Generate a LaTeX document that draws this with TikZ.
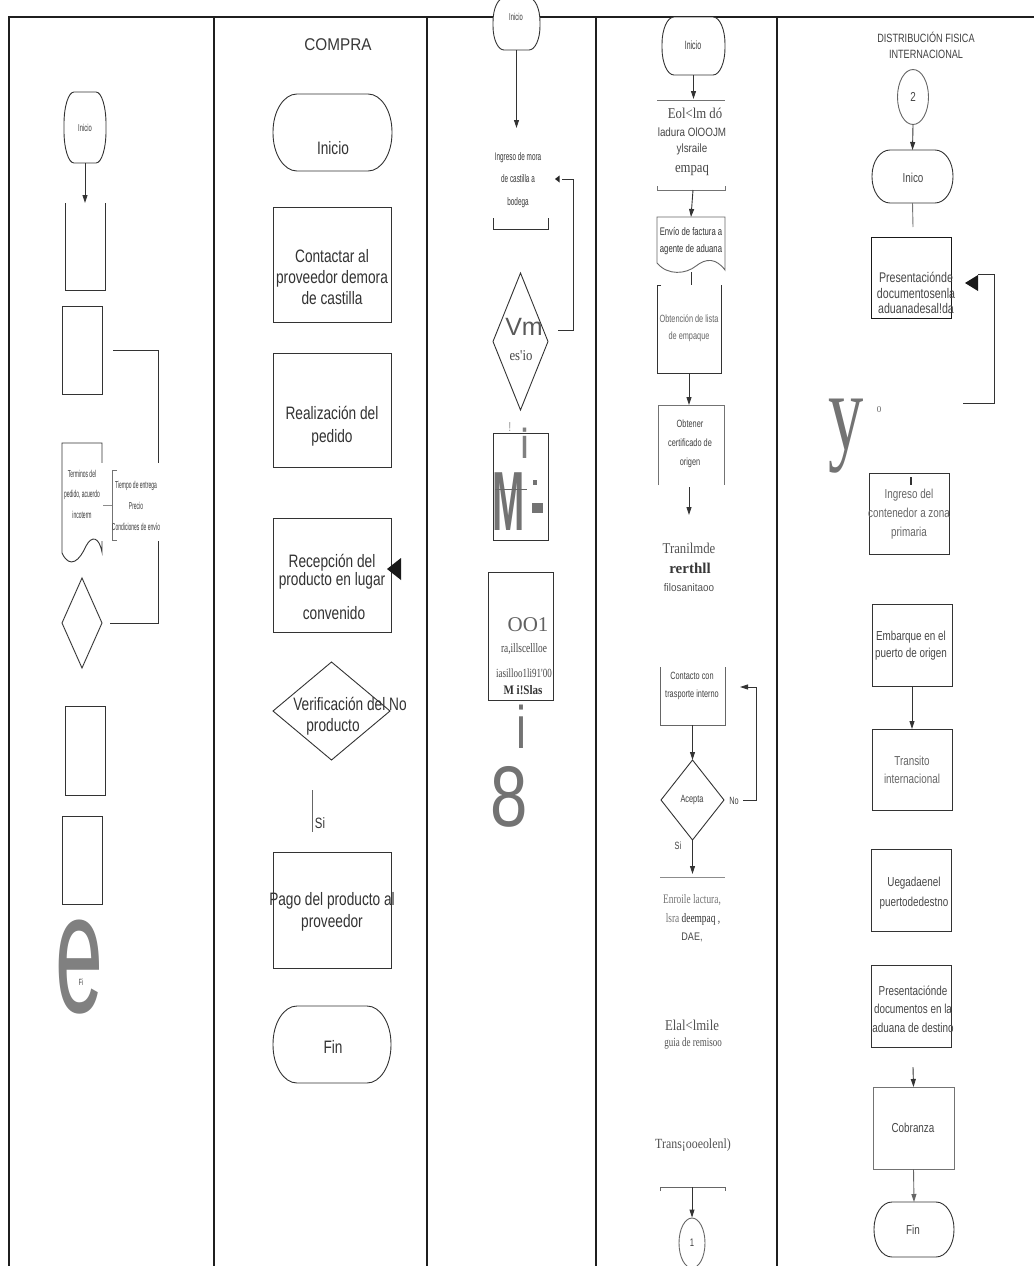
\documentclass[tikz,border=0pt]{standalone}
\usepackage{fontspec}
\setmainfont{Liberation Serif}
\newfontfamily\sansR{Liberation Sans}
\newfontfamily\sansA[FakeStretch=0.9]{Liberation Sans}
\newfontfamily\sansB[FakeStretch=0.76]{Liberation Sans}
\newfontfamily\sansE[FakeStretch=0.7]{Liberation Sans}
\newfontfamily\sansF[FakeStretch=0.82]{Liberation Sans}
\newfontfamily\sansC[FakeStretch=0.58]{Liberation Sans}
\newfontfamily\sansD[FakeStretch=0.5]{Liberation Sans}
\newfontfamily\serifA[FakeStretch=0.85]{Liberation Serif}
\newfontfamily\serifB[FakeStretch=0.72]{Liberation Serif}
\usetikzlibrary{arrows.meta,calc,shapes.geometric}
\newcommand\fsz[2]{\fontsize{#1}{#2}\selectfont}
\newcommand\termpath[3]{\draw[ln, fill=white]
  ($(#1.north west)+(#2,0)$) -- ($(#1.north east)+(-#2,0)$)
  .. controls ($(#1.north east)+(-0.448*#2,0)$) and ($(#1.north east)+(0,0.448*#3)$) .. ($(#1.north east)+(0,#3)$)
  -- ($(#1.south east)+(0,-#3)$)
  .. controls ($(#1.south east)+(0,-0.448*#3)$) and ($(#1.south east)+(-0.448*#2,0)$) .. ($(#1.south east)+(-#2,0)$)
  -- ($(#1.south west)+(#2,0)$)
  .. controls ($(#1.south west)+(0.448*#2,0)$) and ($(#1.south west)+(0,-0.448*#3)$) .. ($(#1.south west)+(0,-#3)$)
  -- ($(#1.north west)+(0,#3)$)
  .. controls ($(#1.north west)+(0,0.448*#3)$) and ($(#1.north west)+(0.448*#2,0)$) .. ($(#1.north west)+(#2,0)$) -- cycle;}
\newcommand\diapath[1]{\draw[ln] (#1.north) -- (#1.east) -- (#1.south) -- (#1.west) -- cycle;}
\begin{document}
\begin{tikzpicture}[x=1pt,y=-1pt,
  ln/.style={draw=black!80, line width=0.9pt},
  frm/.style={draw=black!88, line width=2.4pt},
  arr/.style={ln, -{Triangle[width=5pt,length=8pt]}},
  shp/.style={inner sep=0pt, outer sep=0pt, draw=none},
  box/.style={shp, draw=black!80, line width=0.9pt},
  txt/.style={inner sep=0pt, align=center, text=black!78},
  t2/.style={txt, font=\sansB\fsz{18}{21}, text=black!80},
  t5/.style={txt, font=\sansB\fsz{13}{18.5}, text=black!72},
  t4/.style={txt, font=\sansE\fsz{10.5}{17.5}, text=black!75},
  big/.style={inner sep=0pt, text=black!50}]
\fill[white] (0,0) rectangle (1034,1266);
\useasboundingbox (0,0) rectangle (1034,1266);
% ---------- frame
\draw[frm] (9,1266) -- (9,17) -- (1034,17);
\foreach \xx in {214,427,596,777} \draw[frm, line width=2pt] (\xx,17) -- (\xx,1266);

% ---------- column 1
\node[shp, minimum width=42, minimum height=71] (t1) at (85,127.5) {};
\termpath{t1}{10}{32}
\node[txt, font=\sansC\fsz{10}{12}] (t1t) at (85,128) {Inicio};
\node[shp, minimum width=40, minimum height=87] (c1a) at (85,246.5) {};
\draw[arr] (t1.south) -- (c1a.north);
\draw[ln] (c1a.north west) -- (c1a.south west) -- (c1a.south east) -- (c1a.north east);
\node[box, minimum width=40, minimum height=88] (c1b) at (82,350) {};
\coordinate (k1a) at (113,350); \coordinate (k1b) at (158,350);
\coordinate (k1c) at (158,623); \coordinate (k1d) at (110,623);
\draw[ln] (k1a) -- (k1b) -- (k1c) -- (k1d);
\node[shp, minimum width=40, minimum height=110] (c1d) at (82,498) {};
\draw[ln] (62,553) -- (62,443) -- (102,443) -- (102,552) .. controls (99,537) and (92,535) .. (86,546) .. controls (80,560) and (70,570) .. (62,553);
\node[shp, fill=white, minimum width=60, minimum height=78] (c1w) at (130,502) {};
\draw[ln, draw=black!55] (117,470) -- (112,470) -- (112,540) -- (117,540);
\draw[ln, draw=black!45] (103,505) -- (112,505);
\node[txt, font=\sansD\fsz{10}{21}] (c1n) at (136,506) {Tiempo de entrega\\Precio\\Condiciones de envío};
\node[txt, font=\sansD\fsz{10}{20.5}] (c1dt) at (82,494) {Terminos del\\pedido, acuerdo\\incoterm};
\node[shp, minimum width=40, minimum height=90] (c1e) at (82,623) {};
\diapath{c1e}
\node[box, minimum width=40, minimum height=89] (c1f) at (85,750.5) {};
\node[box, minimum width=40, minimum height=88] (c1g) at (82,860) {};
\node[big, font=\sansR\fsz{172}{172}, xscale=0.5] (c1e1) at (79,967) {e};
\node[txt, font=\sansC\fsz{9}{10}] (c1fi) at (81,982) {Fi};

% ---------- column 2
\node[txt, font=\sansA\fsz{17}{20}] (c2h) at (338,45) {COMPRA};
\node[shp, minimum width=119, minimum height=77] (c2a) at (332.5,132.5) {};
\termpath{c2a}{24}{38}
\node[t2] (c2at) at (333,148) {Inicio};
\node[box, minimum width=118, minimum height=115] (c2b) at (332,264.5) {};
\node[t2] (c2bt) at (332,277) {Contactar al\\proveedor demora\\de castilla};
\node[box, minimum width=118, minimum height=114] (c2c) at (332,410) {};
\node[t2, font=\sansB\fsz{18}{23}] (c2ct) at (332,426) {Realización del\\pedido};
\node[box, minimum width=118, minimum height=114] (c2d) at (332,575) {};
\node[t2, font=\sansB\fsz{18}{14.5}] (c2d1) at (332,572) {Recepción del\\producto en lugar};
\node[t2] (c2d3) at (334,613) {convenido};
\fill[black!90] (387,569) -- (401,558) -- (401,580) -- cycle;
\node[shp, minimum width=117, minimum height=98] (c2e) at (331.5,711) {};
\diapath{c2e}
\node[t2] (c2e1) at (350,704) {Verificación del No};
\node[t2] (c2e2) at (333,727) {producto};
\coordinate (c2s1) at (312,790); \coordinate (c2s2) at (312,832);
\draw[ln, draw=black!60] (c2s1) -- (c2s2);
\node[t2, font=\sansB\fsz{15}{16}] (c2si) at (320,823) {Si};
\node[box, minimum width=118, minimum height=116] (c2f) at (332,910) {};
\node[t2, font=\sansB\fsz{18}{22}] (c2ft) at (332,912) {Pago del producto al\\proveedor};
\node[shp, minimum width=118, minimum height=77] (c2g) at (332,1044.5) {};
\termpath{c2g}{24}{38}
\node[t2] (c2gt) at (333,1047) {Fin};

% ---------- column 3
\node[shp, minimum width=47, minimum height=52] (t3) at (516.5,24) {};
\termpath{t3}{11}{24}
\node[txt, font=\sansC\fsz{10}{12}] (t3t) at (516,17) {Inicio};
\coordinate (c3in) at (516.5,128);
\draw[arr] (t3.south) -- (c3in);
\node[txt, font=\sansC\fsz{11}{22.5}] (c3t) at (518,180) {Ingreso de mora\\de castilla a\\bodega};
\draw[ln] (493,218) -- (493,229) -- (548,229) -- (548,218);
\coordinate (c3l1) at (558,330); \coordinate (c3l2) at (573,330);
\coordinate (c3l3) at (573,179); \coordinate (c3l4) at (562,179);
\draw[ln] (c3l1) -- (c3l2) -- (c3l3) -- (c3l4);
\fill[black!85] (555,179) -- (559.5,175.5) -- (559.5,182.5) -- cycle;
\node[shp, minimum width=55, minimum height=137] (c3d) at (520.5,341.5) {};
\diapath{c3d}
\node[txt, font=\sansR\fsz{25}{25}, text=black!65] (c3vm) at (524,327) {Vm};
\node[txt, font=\serifA\fsz{15}{15}, text=black!72] (c3es) at (521,356) {es'io};
\node[txt, font=\sansC\fsz{13}{13}, text=black!55] (c3ex) at (510,427) {!};
\node[big, font=\sansR\bfseries\fsz{42}{42}, xscale=0.6] (c3i1) at (525,443) {i};
\node[box, minimum width=55, minimum height=107] (c3e) at (520.5,486.5) {};
\node[big, font=\sansR\bfseries\fsz{84}{84}, xscale=0.46, text=black!55] (c3m) at (509,502) {M};
\fill[black!55] (533,480) rectangle (537,485);
\fill[black!55] (532,503) rectangle (543,513);
\draw[ln, draw=black!60] (495,489) -- (527,489);
\node[box, minimum width=65, minimum height=128] (c3f) at (520.5,636) {};
\node[txt, font=\rmfamily\fsz{21}{21}, text=black!62] (c3o) at (528,625) {OO1};
\node[txt, font=\serifB\fsz{13}{13}, text=black!72] (c3r1) at (524,649) {ra,illscellloe};
\node[txt, font=\serifB\fsz{12.5}{13}, text=black!72] (c3r2) at (524,673) {iasilloo1li91'00};
\node[txt, font=\serifA\bfseries\fsz{13}{13}, text=black!80] (c3r3) at (523,690) {M i!Slas};
\node[big, font=\sansR\fsz{60}{60}, xscale=0.75, text=black!55] (c3i2) at (521,727) {i};
\node[big, font=\sansR\fsz{86}{86}, xscale=0.78, text=black!55] (c3n8) at (509,797) {8};

% ---------- column 4
\node[shp, minimum width=63, minimum height=58] (t4) at (693.5,46) {};
\termpath{t4}{12}{27}
\node[txt, font=\sansC\fsz{12}{12}] (t4t) at (693,45) {Inicio};
\coordinate (c4a0) at (693.5,99);
\draw[arr] (t4.south) -- (c4a0);
\draw[ln, draw=black!55] (657,100) -- (725,100);
\node[txt, font=\serifA\fsz{15}{15}, text=black!72] (c4t1) at (695,113) {Eol<lm dó};
\node[txt, font=\sansF\fsz{12}{12}, text=black!72] (c4t2) at (692,132) {ladura OlOOJM};
\node[txt, font=\sansF\fsz{12}{12}, text=black!72] (c4t3) at (692,149) {ylsraile};
\node[txt, font=\serifA\fsz{15}{15}, text=black!72] (c4t4) at (692,170) {empaq};
\draw[ln, draw=black!55] (657,186) -- (657,190) -- (725,190) -- (725,186);
\coordinate (c4b0) at (693,190);
\node[shp, minimum width=68, minimum height=55] (c4a) at (691,244.5) {};
\draw[arr] (c4b0) -- (c4a.north);
\draw[ln, draw=black!60] (657,263) -- (657,217) -- (725,217) -- (725,270) .. controls (716,258) and (706,258) .. (696,266) .. controls (686,274) and (668,276) .. (657,263);
\node[t4, font=\sansE\fsz{11}{17}, text=black!80] (c4at) at (691,241) {Envío de factura a\\agente de aduana};
\node[shp, minimum width=64, minimum height=88] (c4b) at (689,329) {};
\draw[ln] (c4a.south) -- (c4a.south |- c4b.north);
\draw[ln] ($(c4b.north west)+(4,0)$) -- (c4b.north west) -- (c4b.south west) -- (c4b.south east) -- (c4b.north east);
\node[t4, text=black!60] (c4bt) at (689,328) {Obtención de lista\\de empaque};
\node[shp, minimum width=66, minimum height=80] (c4c) at (691,445) {};
\draw[arr] (c4b.south) -- (c4b.south |- c4c.north);
\draw[ln, draw=black!55] (c4c.south west) -- (c4c.north west) -- (c4c.north east) -- (c4c.south east);
\node[t4, font=\sansE\fsz{10.5}{19}] (c4ct) at (690,444) {Obtener\\certificado de\\origen};
\coordinate (c4c1) at (689,487); \coordinate (c4c2) at (689,515);
\draw[arr] (c4c1) -- (c4c2);
\node[txt, font=\serifA\fsz{15}{15}, text=black!68] (c4d1) at (689,548) {Tranilmde};
\node[txt, font=\rmfamily\bfseries\fsz{15}{15}, text=black!78] (c4d2) at (690,568) {rerthll};
\node[txt, font=\sansA\fsz{11}{12}, text=black!68] (c4d3) at (689,588) {filosanitaoo};
\node[shp, minimum width=65, minimum height=58] (c4e) at (692.5,696) {};
\draw[ln, draw=black!60] (c4e.north west) -- (c4e.south west) -- (c4e.south east) -- (c4e.north east);
\node[t4] (c4et) at (692,686) {Contacto con\\trasporte interno};
\node[shp, minimum width=63, minimum height=80] (c4f) at (692.5,800) {};
\draw[arr] (c4e.south) -- (c4f.north);
\diapath{c4f}
\node[t4] (c4ft) at (692,800) {Acepta};
\node[t4] (c4no) at (734,801) {No};
\coordinate (c4n1) at (743,800); \coordinate (c4n2) at (756,800);
\coordinate (c4n3) at (756,687); \coordinate (c4n4) at (740,687);
\draw[arr] (c4n1) -- (c4n2) -- (c4n3) -- (c4n4);
\node[t4] (c4si) at (678,846) {Si};
\coordinate (c4s0) at (692.5,874);
\draw[arr] (c4f.south) -- (c4s0);
\draw[ln, draw=black!45] (660,877) -- (725,877);
\node[txt, font=\serifB\fsz{13}{13}, text=black!55] (c4g1) at (692,900) {Enroile lactura,};
\node[txt, font=\serifB\fsz{13}{13}, text=black!55] (c4g2) at (693,919) {lsra \textcolor{black!80}{deempaq ,}};
\node[txt, font=\sansF\fsz{11}{12}, text=black!72] (c4g3) at (692,937) {DAE,};
\node[txt, font=\serifA\fsz{15}{15}, text=black!68] (c4h1) at (692,1025) {Elal<lmile};
\node[txt, font=\serifB\fsz{12.5}{13}, text=black!68] (c4h2) at (693,1043) {guia de remisoo};
\node[txt, font=\serifA\fsz{14}{14}, text=black!68] (c4j) at (693,1145) {Trans¡ooeolenl)};
\draw[ln, draw=black!60] (660,1191) -- (660,1187) -- (725,1187) -- (725,1191);
\coordinate (c4k0) at (692,1187);
\node[ellipse, draw=black!60, line width=0.9pt, minimum width=26, minimum height=50, inner sep=0pt] (c4k) at (692,1243) {};
\draw[arr] (c4k0) -- (c4k.north);
\node[t4, font=\sansE\fsz{11}{12}] (c4kt) at (692,1243) {1};

% ---------- column 5
\node[txt, font=\sansB\fsz{12}{16}, text=black!75] (c5h) at (926,45) {DISTRIBUCIÓN FISICA\\INTERNACIONAL};
\node[ellipse, draw=black!60, line width=0.9pt, minimum width=31, minimum height=55, inner sep=0pt] (c5a) at (913,97) {};
\node[t5, font=\sansB\fsz{13}{14}] (c5at) at (913,97) {2};
\node[shp, minimum width=81, minimum height=53] (t5) at (912.5,176.5) {};
\draw[arr] (c5a.south) -- (t5.north);
\termpath{t5}{18}{26}
\node[t5] (t5t) at (913,178) {Inico};
\node[box, draw=black!90, minimum width=80, minimum height=81] (c5b) at (911,277.5) {};
\draw[ln, draw=black!55] (t5.south) -- (913,227);
\node[t5, font=\sansB\fsz{14}{15.5}] (c5bt) at (916,293) {Presentaciónde\\documentosenla\\aduanadesal!da};
\fill[black!90] (965,283) -- (978,275) -- (978,291) -- cycle;
\coordinate (c5l1) at (978,274); \coordinate (c5l2) at (994,274);
\coordinate (c5l3) at (994,403); \coordinate (c5l4) at (963,403);
\draw[ln] (c5l1) -- (c5l2) -- (c5l3) -- (c5l4);
\node[big, font=\rmfamily\fsz{110}{110}, xscale=0.64, anchor=base, text=black!55] (c5y) at (846,449) {y};
\node[txt, font=\rmfamily\fsz{9}{10}, text=black!60] (c5o) at (879,410) {0};
\node[box, minimum width=80, minimum height=81] (c5c) at (909,513.5) {};
\draw[line width=2pt, draw=black!80] (911,477) -- (911,485);
\node[t5, font=\sansB\fsz{13}{19}, text=black!60] (c5ct) at (909,514) {Ingreso del\\contenedor a zona\\primaria};
\node[box, minimum width=80, minimum height=82] (c5d) at (912,645) {};
\node[t5, font=\sansB\fsz{13}{17}] (c5dt) at (911,646) {Embarque en el\\puerto de origen};
\node[box, minimum width=80, minimum height=81] (c5e) at (912,769.5) {};
\draw[arr] (c5d.south) -- (c5e.north);
\node[t5, text=black!60] (c5et) at (912,770) {Transito\\internacional};
\node[box, minimum width=80, minimum height=82] (c5f) at (911,890) {};
\node[t5, font=\sansB\fsz{13}{20}] (c5ft) at (914,893) {Uegadaenel\\puertodedestno};
\node[box, minimum width=80, minimum height=82] (c5g) at (911,1006) {};
\node[t5] (c5gt) at (913,1009) {Presentaciónde\\documentos en la\\aduana de destino};
\node[box, draw=black!55, minimum width=81, minimum height=82] (c5h2) at (913.5,1128) {};
\coordinate (c5p) at (913,1067);
\draw[arr] (c5p) -- (c5h2.north);
\node[t5] (c5ht) at (913,1128) {Cobranza};
\node[shp, minimum width=80, minimum height=55] (t5b) at (914,1229.5) {};
\draw[arr, draw=black!60] (c5h2.south) -- (t5b.north);
\termpath{t5b}{18}{27}
\node[t5] (t5bt) at (913,1230) {Fin};
\end{tikzpicture}
\end{document}
